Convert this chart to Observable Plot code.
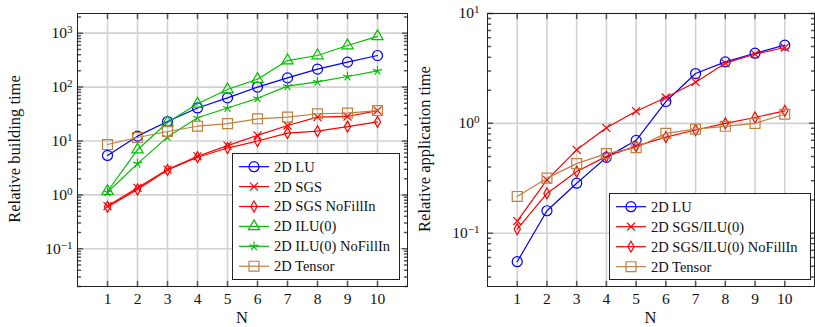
<!DOCTYPE html>
<html>
<head>
<meta charset="utf-8">
<script src="https://cdn.jsdelivr.net/npm/d3@7"></script>
<script src="https://cdn.jsdelivr.net/npm/@observablehq/plot@0.6"></script>
<style>
  body { margin: 0; background: #fff; font-family: "Liberation Serif", "DejaVu Serif", serif; }
  #wrap { display: flex; width: 815px; height: 327px; }
  .panel { position: relative; height: 327px; }
  .panel svg { display: block; }
  .ylab { position: absolute; white-space: nowrap; font-size: 16.5px; line-height: 16px; color: #111;
          transform: translate(-50%, -50%) rotate(-90deg); }
  .xlab { position: absolute; font-size: 16.5px; line-height: 14px; color: #111; transform: translate(-50%, -50%); }
  .legend { position: absolute; box-sizing: border-box; border: 1px solid #222; background: #fff; }
  .legend svg { position: absolute; left: 0; top: 0; }
</style>
</head>
<body>
<div id="wrap">
  <div class="panel" id="left" style="width:408px"></div>
  <div class="panel" id="right" style="width:407px"></div>
</div>
<script>
// Problem size N on the horizontal axis
const N = [1, 2, 3, 4, 5, 6, 7, 8, 9, 10];

// Relative building time per preconditioner
const buildLU        = [5.4, 12.3, 23, 41, 63, 100, 148, 215, 290, 385];
const buildSGS       = [0.62, 1.35, 2.95, 5.2, 8.2, 12.7, 19.4, 27.7, 28.5, 36.7];
const buildSGSNoFill = [0.6, 1.26, 2.9, 5.0, 7.4, 10, 14, 15.2, 18.5, 22.6];
const buildILU       = [1.17, 6.9, 22, 49, 90, 140, 310, 385, 590, 870];
const buildILUNoFill = [1.12, 3.8, 11.8, 27, 41, 62, 104, 125, 157, 200];
const buildTensor    = [8.6, 11.6, 15, 18.8, 21, 25.8, 27.7, 32, 33, 36.7];

// Relative application time per preconditioner
const applyLU           = [0.055, 0.16, 0.285, 0.49, 0.70, 1.58, 2.84, 3.63, 4.35, 5.15];
const applySGSILU       = [0.129, 0.306, 0.574, 0.91, 1.29, 1.72, 2.37, 3.53, 4.26, 4.9];
const applySGSILUNoFill = [0.109, 0.23, 0.364, 0.50, 0.62, 0.75, 0.87, 1.0, 1.13, 1.30];
const applyTensor       = [0.216, 0.317, 0.43, 0.53, 0.60, 0.81, 0.885, 0.94, 1.0, 1.21];

// Five-armed asterisk marker
const symbolStar = {
  draw(context, size) {
    const r = Math.sqrt(size / Math.PI);
    for (let k = 0; k < 5; ++k) {
      const a = -Math.PI / 2 + k * 2 * Math.PI / 5;
      context.moveTo(0, 0);
      context.lineTo(r * Math.cos(a), r * Math.sin(a));
    }
  }
};

const BLUE = "#0000ff", RED = "#ff0000", GREEN = "#00bf00", BROWN = "#bf8040";

const buildSeries = [
  {name: "2D LU", values: buildLU, color: BLUE, symbol: d3.symbolCircle, r: 5},
  {name: "2D SGS", values: buildSGS, color: RED, symbol: d3.symbolTimes, r: 3.7},
  {name: "2D SGS NoFillIn", values: buildSGSNoFill, color: RED, symbol: d3.symbolDiamond, r: 3.3},
  {name: "2D ILU(0)", values: buildILU, color: GREEN, symbol: d3.symbolTriangle, r: 4.2},
  {name: "2D ILU(0) NoFillIn", values: buildILUNoFill, color: GREEN, symbol: symbolStar, r: 4.8},
  {name: "2D Tensor", values: buildTensor, color: BROWN, symbol: d3.symbolSquare, r: 5.6}
];

const applySeries = [
  {name: "2D LU", values: applyLU, color: BLUE, symbol: d3.symbolCircle, r: 5},
  {name: "2D SGS/ILU(0)", values: applySGSILU, color: RED, symbol: d3.symbolTimes, r: 3.7},
  {name: "2D SGS/ILU(0) NoFillIn", values: applySGSILUNoFill, color: RED, symbol: d3.symbolDiamond, r: 3.3},
  {name: "2D Tensor", values: applyTensor, color: BROWN, symbol: d3.symbolSquare, r: 5.6}
];

// Inward tick drawn from the anchor point
const tickShape = { draw(context, l) { context.moveTo(0, 0); context.lineTo(0, -l); } };

function decadeTicks([lo, hi]) {
  const major = [], minor = [];
  for (let k = Math.floor(Math.log10(lo)); k <= Math.ceil(Math.log10(hi)); ++k) {
    const p = Math.pow(10, k);
    if (p >= lo && p <= hi) major.push(p);
    for (let m = 2; m <= 9; ++m) {
      const v = m * p;
      if (v >= lo && v <= hi) minor.push(v);
    }
  }
  return {major, minor};
}

function drawPanel(el, {series, yDomain, width, marginLeft, marginRight, tickPad, ylabel, legend}) {
  const {major, minor} = decadeTicks(yDomain);
  const tickColor = "#555";
  const marks = [
    Plot.gridX(N, {stroke: "#d2d2d2", strokeOpacity: 1, strokeWidth: 1.6}),
    Plot.gridY(major, {stroke: "#d2d2d2", strokeOpacity: 1, strokeWidth: 1.6}),
    // inward ticks on all four sides
    Plot.vector(N, {x: d => d, frameAnchor: "bottom", length: 5, rotate: 0, anchor: "start", shape: tickShape, stroke: tickColor}),
    Plot.vector(N, {x: d => d, frameAnchor: "top", length: 5, rotate: 180, anchor: "start", shape: tickShape, stroke: tickColor}),
    Plot.vector(major, {y: d => d, frameAnchor: "left", length: 5, rotate: 90, anchor: "start", shape: tickShape, stroke: tickColor}),
    Plot.vector(major, {y: d => d, frameAnchor: "right", length: 5, rotate: -90, anchor: "start", shape: tickShape, stroke: tickColor}),
    Plot.vector(minor, {y: d => d, frameAnchor: "left", length: 3, rotate: 90, anchor: "start", shape: tickShape, stroke: tickColor}),
    Plot.vector(minor, {y: d => d, frameAnchor: "right", length: 3, rotate: -90, anchor: "start", shape: tickShape, stroke: tickColor}),
    Plot.axisX(N, {anchor: "bottom", tickSize: 0, tickPadding: 6, fontSize: 15.5, label: null, fill: "#111"}),
    Plot.axisY(major, {anchor: "left", tickSize: 0, tickPadding: tickPad, fontSize: 15.5, label: null, fill: "#111",
      tickFormat: d => "10^" + Math.round(Math.log10(d))}),
    Plot.frame({stroke: "#222", strokeWidth: 1})
  ];
  for (const s of series) {
    const pts = s.values.map((v, i) => ({n: N[i], v}));
    marks.push(Plot.line(pts, {x: "n", y: "v", stroke: s.color, strokeWidth: 1.2}));
    marks.push(Plot.dot(pts, {x: "n", y: "v", stroke: s.color, fill: "none", strokeWidth: 1.2, symbol: s.symbol, r: s.r}));
  }
  const chart = Plot.plot({
    width, height: 327,
    marginLeft, marginRight, marginTop: 13, marginBottom: 41,
    style: {fontFamily: "'Liberation Serif', 'DejaVu Serif', serif", background: "#fff"},
    x: {type: "linear", domain: [0, 11]},
    y: {type: "log", domain: yDomain},
    marks
  });
  // exponent notation for decade labels
  d3.select(chart).selectAll('g[aria-label="y-axis tick label"] text').each(function () {
    const t = this.textContent;
    if (!t.includes("^")) return;
    const [base, exp] = t.split("^");
    this.textContent = base;
    d3.select(this).append("tspan").attr("dy", "-0.45em").attr("font-size", "0.72em")
      .text(exp.replace("-", "\u2212"));
  });
  el.appendChild(chart);

  const frameMid = marginLeft + (width - marginLeft - marginRight) / 2;
  const yl = document.createElement("div");
  yl.className = "ylab";
  yl.style.left = ylabel.x + "px";
  yl.style.top = "149px";
  yl.textContent = ylabel.text;
  el.appendChild(yl);
  const xl = document.createElement("div");
  xl.className = "xlab";
  xl.style.left = frameMid + "px";
  xl.style.top = "318px";
  xl.textContent = "N";
  el.appendChild(xl);

  // legend box
  const box = document.createElement("div");
  box.className = "legend";
  Object.assign(box.style, {left: legend.left + "px", top: legend.top + "px", width: legend.width + "px", height: legend.height + "px"});
  const svg = d3.create("svg").attr("width", legend.width).attr("height", legend.height)
    .style("font-family", "'Liberation Serif', 'DejaVu Serif', serif").style("font-size", "14.5px");
  series.forEach((s, i) => {
    const y = legend.first + i * legend.step - 1;
    const g = svg.append("g");
    g.append("line").attr("x1", 6).attr("x2", 36).attr("y1", y).attr("y2", y)
      .attr("stroke", s.color).attr("stroke-width", 1.2);
    g.append("path").attr("transform", `translate(21,${y})`)
      .attr("d", d3.symbol(s.symbol, s.r * s.r * Math.PI)())
      .attr("fill", "none").attr("stroke", s.color).attr("stroke-width", 1.2);
    g.append("text").attr("x", 41).attr("y", y).attr("dy", "0.34em").attr("fill", "#111").text(s.name);
  });
  box.appendChild(svg.node());
  el.appendChild(box);
}

drawPanel(document.getElementById("left"), {
  series: buildSeries,
  yDomain: [0.02, 2317],
  width: 408, marginLeft: 77, marginRight: 1, tickPad: 5,
  ylabel: {x: 15, text: "Relative building time"},
  legend: {left: 232, top: 153, width: 168, height: 127, first: 13.7, step: 19.9}
});

drawPanel(document.getElementById("right"), {
  series: applySeries,
  yDomain: [0.0327, 10],
  width: 407, marginLeft: 79, marginRight: 1, tickPad: 8,
  ylabel: {x: 17, text: "Relative application time"},
  legend: {left: 201, top: 193, width: 202, height: 87, first: 13.7, step: 20}
});
</script>
</body>
</html>
